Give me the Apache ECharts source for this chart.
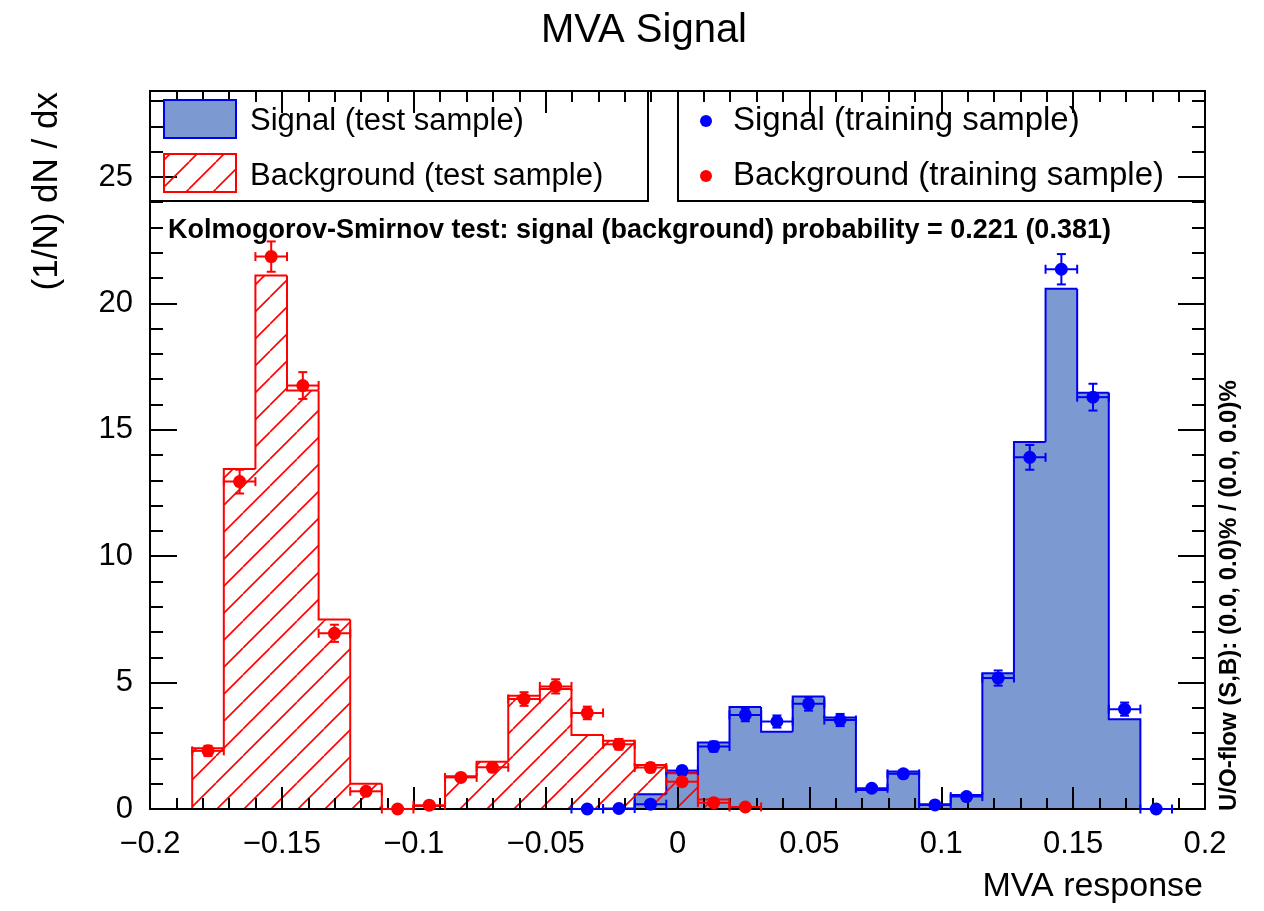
<!DOCTYPE html>
<html><head><meta charset="utf-8">
<script src="https://cdn.jsdelivr.net/npm/echarts@6/dist/echarts.min.js"></script>
<style>html,body{margin:0;padding:0;background:#fff;} #main{width:1264px;height:911px;}</style>
</head><body><div id="main"></div>
<script>
// ---- Histogram binning (MVA response) ----
const histMin = -0.184;
const histMax = 0.1755;
const nBins = 30;

// ---- Test-sample histograms, (1/N) dN/dx per bin ----
const signalTest = [0,0,0,0,0,0,0,0,0,0,0,0,0,0,0.58,1.44,2.63,4.03,3.06,4.45,3.62,0.75,1.48,0.19,0.55,5.37,14.52,20.58,16.46,3.55];
const backgroundTest = [2.4,13.45,21.1,16.55,7.5,1.0,0,0.12,1.3,1.87,4.48,4.75,2.93,2.7,1.74,1.41,0.38,0.08,0,0,0,0,0,0,0,0,0,0,0,0];

// ---- Training-sample points: bin index, value, error ----
const signalTrainBins = [12,13,14,15,16,17,18,19,20,21,22,23,24,25,26,27,28,29,30];
const signalTrainValues = [0.0,0.02,0.19,1.52,2.47,3.72,3.46,4.16,3.52,0.82,1.39,0.16,0.49,5.18,13.91,21.35,16.29,3.95,0.0];
const signalTrainErrors = [0.0,0.02,0.06,0.16,0.2,0.25,0.24,0.27,0.24,0.12,0.15,0.05,0.09,0.3,0.49,0.6,0.53,0.26,0.0];
const backgroundTrainBins = [0,1,2,3,4,5,6,7,8,9,10,11,12,13,14,15,16,17];
const backgroundTrainValues = [2.3,12.95,21.85,16.75,6.95,0.7,0.0,0.15,1.25,1.65,4.35,4.85,3.8,2.56,1.64,1.08,0.25,0.08];
const backgroundTrainErrors = [0.2,0.47,0.6,0.53,0.34,0.11,0.0,0.05,0.14,0.17,0.27,0.28,0.25,0.21,0.17,0.13,0.07,0.04];

// ---- Axis ranges / texts ----
const xRange = [-0.2, 0.2];
const yRange = [0, 28.4];
const titleText = 'MVA Signal';
const xTitle = 'MVA response';
const yTitle = '(1/N) dN / dx';
const ksText = 'Kolmogorov-Smirnov test: signal (background) probability = 0.221 (0.381)';
const flowText = 'U/O-flow (S,B): (0.0, 0.0)% / (0.0, 0.0)%';
const legendLabels = ['Signal (test sample)', 'Background (test sample)', 'Signal (training sample)', 'Background (training sample)'];

// ---- Styles ----
const FONT = '"Liberation Sans", Arial, Helvetica, sans-serif';
const sigFill = '#7d99d1', sigLine = '#0000ee', sigMarker = '#0000ff';
const bkgLine = '#ff0000';

function makeHatch(color, p, lw) {
  const c = document.createElement('canvas');
  c.width = p; c.height = p;
  const g = c.getContext('2d');
  g.strokeStyle = color; g.lineWidth = lw;
  g.beginPath();
  for (let k = -1; k <= 1; k++) { g.moveTo(k * p, p); g.lineTo(k * p + p, 0); }
  g.stroke();
  return c;
}
const hatch = { image: makeHatch(bkgLine, 27, 1.6), repeat: 'repeat' };

const binW = (histMax - histMin) / nBins;
function histData(vals) {
  return vals.map((v, i) => [histMin + i * binW, histMin + (i + 1) * binW, v, i > 0 ? vals[i - 1] : 0, i === vals.length - 1 ? 1 : 0]);
}
function pointData(bins, vals, errs) {
  return bins.map((b, i) => [histMin + (b + 0.5) * binW, vals[i], errs[i]]);
}
function histRender(fill, stroke) {
  return function (params, api) {
    const x0 = api.value(0), x1 = api.value(1), h = api.value(2), ph = api.value(3), last = api.value(4);
    const p00 = api.coord([x0, 0]), p0h = api.coord([x0, h]), p1h = api.coord([x1, h]), p0p = api.coord([x0, ph]), p10 = api.coord([x1, 0]);
    const children = [];
    if (h > 0) {
      const rx0 = Math.round(p0h[0]), rx1 = Math.round(p1h[0]);
      children.push({ type: 'rect', shape: { x: rx0, y: p0h[1], width: rx1 - rx0, height: p00[1] - p0h[1] }, style: { fill: fill } });
    }
    const pts = [p0p, p0h, p1h];
    if (last) pts.push(p10);
    children.push({ type: 'polyline', shape: { points: pts }, style: { stroke: stroke, lineWidth: 2, fill: 'none' } });
    return { type: 'group', children: children };
  };
}
function pointRender(color) {
  return function (params, api) {
    const xc = api.value(0), v = api.value(1), e = api.value(2);
    const c = api.coord([xc, v]);
    const l = api.coord([xc - binW / 2, v]), r = api.coord([xc + binW / 2, v]);
    const t = api.coord([xc, v + e]), b = api.coord([xc, v - e]);
    const cap = 4.5, st = { stroke: color, lineWidth: 2 };
    const ch = [
      { type: 'line', shape: { x1: l[0], y1: c[1], x2: r[0], y2: c[1] }, style: st },
      { type: 'line', shape: { x1: l[0], y1: c[1] - cap, x2: l[0], y2: c[1] + cap }, style: st },
      { type: 'line', shape: { x1: r[0], y1: c[1] - cap, x2: r[0], y2: c[1] + cap }, style: st }
    ];
    if (e > 0) {
      ch.push({ type: 'line', shape: { x1: c[0], y1: t[1], x2: c[0], y2: b[1] }, style: st });
      ch.push({ type: 'line', shape: { x1: c[0] - cap, y1: t[1], x2: c[0] + cap, y2: t[1] }, style: st });
      ch.push({ type: 'line', shape: { x1: c[0] - cap, y1: b[1], x2: c[0] + cap, y2: b[1] }, style: st });
    }
    ch.push({ type: 'circle', shape: { cx: c[0], cy: c[1], r: 6.5 }, style: { fill: color } });
    return { type: 'group', children: ch };
  };
}

function fmtX(v) {
  const r = Math.round(v * 100) / 100;
  return String(r).replace('-', '\u2212');
}
const axisLineStyle = { color: '#000', width: 2 };
function xAxisCfg(pos, labels) {
  return {
    type: 'value', min: xRange[0], max: xRange[1], interval: 0.05, position: pos, z: 3,
    axisLine: { show: true, onZero: false, lineStyle: axisLineStyle },
    axisTick: { show: true, inside: true, length: 22, lineStyle: axisLineStyle },
    minorTick: { show: true, splitNumber: 5, length: 11, lineStyle: axisLineStyle },
    splitLine: { show: false },
    axisLabel: { show: labels, formatter: fmtX, fontSize: 31, color: '#000', fontFamily: FONT, margin: 20 }
  };
}
function yAxisCfg(pos, labels) {
  return {
    type: 'value', min: yRange[0], max: yRange[1], interval: 5, position: pos, z: 3,
    axisLine: { show: true, onZero: false, lineStyle: axisLineStyle },
    axisTick: { show: true, inside: true, length: 27, lineStyle: axisLineStyle },
    minorTick: { show: true, splitNumber: 5, length: 13, lineStyle: axisLineStyle },
    splitLine: { show: false },
    axisLabel: { show: labels, showMaxLabel: false, fontSize: 31, color: '#000', fontFamily: FONT, margin: 17 }
  };
}

const txt = (x, y, text, font, align, extra) => Object.assign({
  type: 'text', x: x, y: y, z: 5,
  style: { text: text, font: font, fill: '#000', align: align, verticalAlign: 'middle' }
}, extra || {});

const chart = echarts.init(document.getElementById('main'), null, { renderer: 'canvas' });
chart.setOption({
  animation: false,
  backgroundColor: '#fff',
  grid: { left: 150, right: 59, top: 91, bottom: 102, containLabel: false },
  xAxis: [xAxisCfg('bottom', true), xAxisCfg('top', false)],
  yAxis: [yAxisCfg('left', true), yAxisCfg('right', false)],
  series: [
    { name: legendLabels[0], type: 'custom', z: 2, data: histData(signalTest), renderItem: histRender(sigFill, sigLine) },
    { name: legendLabels[1], type: 'custom', z: 2, data: histData(backgroundTest), renderItem: histRender(hatch, bkgLine) },
    { name: legendLabels[2], type: 'custom', z: 4, data: pointData(signalTrainBins, signalTrainValues, signalTrainErrors), renderItem: pointRender(sigMarker) },
    { name: legendLabels[3], type: 'custom', z: 4, data: pointData(backgroundTrainBins, backgroundTrainValues, backgroundTrainErrors), renderItem: pointRender(bkgLine) }
  ],
  graphic: [
    txt(644, 31, titleText, '40px ' + FONT, 'center'),
    txt(1203, 887, xTitle, '34px ' + FONT, 'right'),
    txt(47, 92, yTitle, '35px ' + FONT, 'right', { rotation: Math.PI / 2 }),
    txt(168, 231, ksText, 'bold 27px ' + FONT, 'left'),
    txt(1229, 811, flowText, 'bold 24px ' + FONT, 'left', { rotation: Math.PI / 2 }),
    // legend boxes
    { type: 'rect', z: 1, shape: { x: 150, y: 91, width: 498, height: 110 }, style: { fill: '#fff', stroke: '#000', lineWidth: 2 } },
    { type: 'rect', z: 1, shape: { x: 678, y: 91, width: 527, height: 110 }, style: { fill: '#fff', stroke: '#000', lineWidth: 2 } },
    { type: 'rect', z: 5, shape: { x: 164, y: 100, width: 72, height: 38 }, style: { fill: sigFill, stroke: sigLine, lineWidth: 2 } },
    { type: 'rect', z: 5, shape: { x: 164, y: 154, width: 72, height: 38 }, style: { fill: hatch, stroke: bkgLine, lineWidth: 2 } },
    txt(250, 121, legendLabels[0], '31px ' + FONT, 'left'),
    txt(250, 176, legendLabels[1], '31px ' + FONT, 'left'),
    { type: 'circle', z: 5, shape: { cx: 706, cy: 121, r: 6 }, style: { fill: sigMarker } },
    { type: 'circle', z: 5, shape: { cx: 706, cy: 176, r: 6 }, style: { fill: bkgLine } },
    txt(733, 121, legendLabels[2], '33px ' + FONT, 'left'),
    txt(733, 176, legendLabels[3], '33px ' + FONT, 'left')
  ]
});
</script></body></html>
